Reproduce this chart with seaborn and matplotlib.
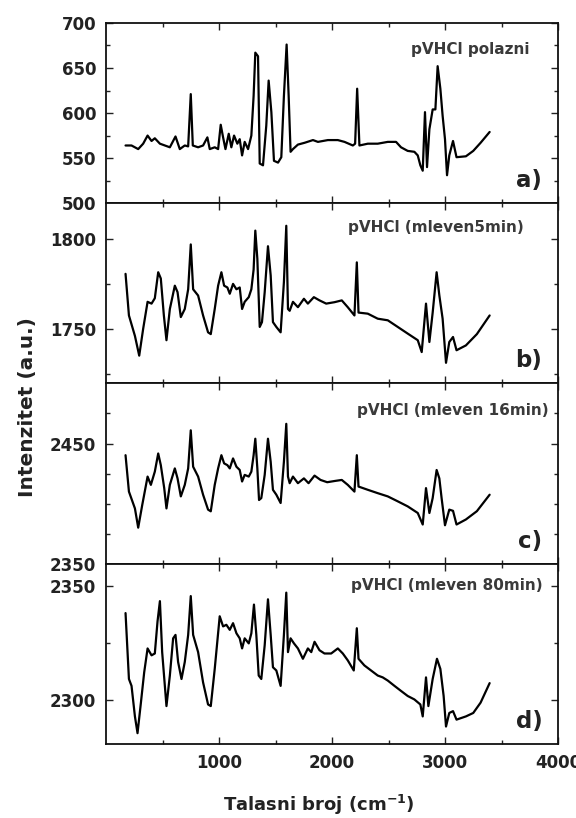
import pandas as pd
import seaborn as sns
import matplotlib.pyplot as plt

# talasni brojevi i intenziteti, ocitano sa slike
wn_a = [173, 226, 285, 329, 368, 403, 432, 477, 521, 565, 615, 653, 697, 727, 750, 768, 815, 859, 897, 918,
        962, 992, 1015, 1036, 1057, 1086, 1109, 1133, 1162, 1183, 1204, 1227, 1257, 1286, 1306, 1321, 1345, 1360,
        1389, 1418, 1439, 1463, 1486, 1522, 1551, 1574, 1598, 1616, 1633, 1654, 1698, 1757, 1831, 1875, 1963,
        2051, 2110, 2184, 2204, 2222, 2242, 2316, 2404, 2493, 2566, 2610, 2669, 2728, 2758, 2781, 2802, 2822,
        2840, 2861, 2890, 2914, 2934, 2958, 2978, 2999, 3017, 3037, 3070, 3101, 3184, 3249, 3314, 3394]
int_a = [564, 564, 560, 566, 575, 569, 572, 566, 564, 562, 574, 560, 564, 563, 621, 564, 562, 564, 573, 560,
         562, 560, 587, 573, 560, 577, 562, 575, 566, 571, 553, 568, 560, 575, 619, 667, 663, 544,
         542, 586, 636, 601, 547, 545, 551, 619, 676, 619, 557, 560, 565, 567, 570, 568, 570,
         570, 568, 564, 566, 627, 564, 566, 566, 568, 568, 562, 558, 557, 553, 542, 536, 601,
         540, 582, 604, 604, 652, 627, 597, 571, 531, 553, 569, 551, 552, 558, 567, 579]

wn_b = [173, 203, 256, 294, 329, 368, 403, 432, 462, 485, 512, 535, 565, 609, 633, 662, 697, 727, 750, 771,
        815, 859, 903, 927, 962, 992, 1021, 1045, 1074, 1095, 1124, 1154, 1183, 1204, 1227, 1263, 1286, 1306,
        1321, 1339, 1360, 1380, 1404, 1433, 1457, 1477, 1507, 1545, 1574, 1595, 1610, 1625, 1654, 1698, 1751,
        1786, 1839, 1889, 1948, 2022, 2086, 2139, 2198, 2219, 2234, 2316, 2404, 2493, 2581, 2669, 2758, 2793,
        2831, 2861, 2890, 2925, 2949, 2978, 3008, 3037, 3070, 3101, 3184, 3281, 3394]
int_b = [1780.6, 1757.4, 1746, 1735, 1750, 1765, 1764, 1767, 1781.5, 1778, 1757.4, 1743.6, 1761, 1774, 1770.4,
         1756.5, 1761, 1772, 1797, 1772, 1768.5, 1757.4, 1748, 1747, 1761, 1774, 1781.5, 1774, 1773, 1769.5,
         1775, 1772, 1773, 1761, 1765, 1767.6, 1772, 1783, 1804.7, 1789, 1751, 1753.7, 1770.4, 1796, 1779.7,
         1753.7, 1751, 1748, 1776, 1807.4, 1761, 1760, 1765, 1762, 1766.7, 1764, 1767.6, 1765.8, 1764, 1764.8,
         1765.8, 1762, 1757.4, 1787, 1759, 1758.4, 1755.6, 1754.7, 1751, 1747.3, 1743.6, 1737,
         1764, 1742.6, 1759, 1781.5, 1768.6, 1755.6, 1731, 1742.6, 1745.4, 1738, 1740.7, 1747, 1757.4]

wn_c = [173, 203, 256, 285, 321, 368, 397, 432, 462, 485, 515, 535, 565, 609, 633, 662, 697, 727, 750, 771,
        815, 859, 903, 927, 962, 992, 1021, 1045, 1074, 1095, 1124, 1154, 1183, 1204, 1227, 1263, 1286, 1306,
        1321, 1339, 1354, 1374, 1404, 1433, 1457, 1477, 1507, 1545, 1574, 1595, 1610, 1625, 1654, 1698, 1751,
        1792, 1845, 1898, 1957, 2028, 2086, 2139, 2198, 2219, 2234, 2316, 2404, 2493, 2581, 2669, 2758, 2802,
        2831, 2861, 2890, 2925, 2949, 2969, 2999, 3037, 3070, 3101, 3184, 3281, 3394]
int_c = [2440.3, 2410, 2396, 2380, 2399, 2422.5, 2415.6, 2426.6, 2441.7, 2432, 2413, 2396, 2415.6, 2429.3, 2421,
         2406, 2415.6, 2429.3, 2461, 2430.7, 2422.5, 2407.4, 2395, 2393.6, 2415.6, 2429.3, 2440.3, 2433.5, 2432,
         2429.3, 2437.6, 2430.7, 2428, 2418.4, 2423.9, 2422.5, 2426.6, 2440.3, 2454, 2429.3, 2403, 2404.6,
         2423.9, 2454, 2434.8, 2411.5, 2407.4, 2400.5, 2434.8, 2466.4, 2422.5, 2417, 2422.5, 2417, 2421,
         2417, 2423.3, 2419.7, 2417.8, 2418.9, 2419.7, 2415.6, 2410, 2440.3, 2414.2, 2411.5, 2408.7, 2406,
         2401.9, 2397.7, 2392.2, 2382.6, 2412.9, 2392.2, 2404.6, 2428, 2421, 2404.6, 2382, 2395, 2394,
         2382.6, 2386.8, 2393.7, 2407.4]

wn_d = [173, 203, 226, 256, 279, 309, 338, 368, 403, 432, 456, 477, 497, 535, 565, 594, 615, 638, 668, 697,
        727, 750, 771, 815, 859, 903, 927, 962, 1006, 1036, 1065, 1095, 1124, 1154, 1183, 1204, 1227, 1263,
        1286, 1309, 1330, 1351, 1374, 1404, 1433, 1457, 1477, 1507, 1545, 1574, 1595, 1610, 1633, 1663, 1698,
        1742, 1786, 1816, 1845, 1889, 1933, 1992, 2051, 2095, 2139, 2192, 2219, 2234, 2286, 2345, 2404, 2448,
        2493, 2552, 2610, 2669, 2728, 2781, 2802, 2831, 2852, 2890, 2928, 2958, 2987, 3008, 3037, 3070, 3101,
        3184, 3249, 3314, 3394]
int_d = [2338, 2309.3, 2306.3, 2293, 2285.7, 2299, 2312.2, 2322.6, 2319.6, 2320.4, 2334.4, 2343.2, 2321, 2297.5,
         2310.8, 2327, 2328.5, 2316.7, 2309.3, 2316.7, 2328.5, 2345.4, 2328.5, 2321, 2307.8, 2298.2, 2297.5,
         2313.7, 2336.6, 2332.2, 2332.9, 2330.7, 2333.6, 2329.2, 2327, 2322.6, 2327, 2324.8, 2329.2, 2341.7,
         2328.5, 2310.8, 2309.3, 2324, 2344, 2328.5, 2314.4, 2313, 2306.3, 2328.5, 2346.9, 2321, 2327, 2324.8,
         2322.6, 2318.1, 2322.6, 2321, 2325.5, 2321.8, 2320.4, 2320.4, 2322.6, 2320.4, 2317.4, 2313, 2331.4,
         2318.1, 2315.2, 2313, 2310.8, 2310, 2308.6, 2306.3, 2304.1, 2301.9, 2300.4, 2298.2, 2293, 2310,
         2297.5, 2309.3, 2318.1, 2313.7, 2301.9, 2288.6, 2294.5, 2295.3, 2291.6, 2293, 2294.5, 2299, 2307.5]

natpisi = ['pVHCl polazni', 'pVHCl (mleven5min)', 'pVHCl (mleven 16min)', 'pVHCl (mleven 80min)']
oznake = ['a)', 'b)', 'c)', 'd)']
ylims = [(500, 700), (1719.5, 1820), (2350, 2500), (2281, 2359.5)]
yticks = [[500, 550, 600, 650, 700], [1750, 1800], [2350, 2450], [2300, 2350]]
yminor = [[525, 575, 625, 675], [1725, 1775], [2375, 2400, 2425, 2475], [2325]]

sns.set_style('ticks')
plt.rcParams['font.family'] = ['DejaVu Sans']
plt.rcParams['font.weight'] = 'bold'

fig, axes = plt.subplots(4, 1, figsize=(5.76, 8.18), dpi=100, sharex=True)
fig.subplots_adjust(left=0.184, right=0.969, top=0.972, bottom=0.0905, hspace=0)

serije = [(wn_a, int_a), (wn_b, int_b), (wn_c, int_c), (wn_d, int_d)]
natpis_pos = [(0.936, 0.85), (0.924, 0.867), (0.98, 0.85), (0.965, 0.88)]

for i, ax in enumerate(axes):
    df = pd.DataFrame({'wn': serije[i][0], 'I': serije[i][1]})
    sns.lineplot(data=df, x='wn', y='I', ax=ax, color='black', linewidth=1.6, estimator=None, sort=False)
    ax.set_xlim(0, 4000)
    ax.set_ylim(*ylims[i])
    ax.set_yticks(yticks[i])
    ax.set_yticks(yminor[i], minor=True)
    ax.set_xticks([1000, 2000, 3000, 4000])
    ax.set_xticks([500, 1500, 2500, 3500], minor=True)
    ax.tick_params(which='both', direction='in', top=True, right=True, width=1, colors='#222222',
                   labelsize=12, pad=7)
    ax.tick_params(which='major', length=5)
    ax.tick_params(which='minor', length=3)
    for s in ax.spines.values():
        s.set_linewidth(1.3)
        s.set_color('#111111')
    ax.set_xlabel('')
    ax.set_ylabel('')
    ax.text(natpis_pos[i][0], natpis_pos[i][1], natpisi[i], transform=ax.transAxes, ha='right', va='center',
            fontsize=11, fontweight='bold', color='#3a3a3a')
    ax.text(0.965, 0.125, oznake[i], transform=ax.transAxes, ha='right', va='center',
            fontsize=16.5, fontweight='bold', color='#222222')

fig.text(28 / 576, 1 - 407 / 818, 'Intenzitet (a.u.)', rotation=90, ha='center', va='center',
         fontsize=14.5, fontweight='bold', color='#222222')
fig.text(319 / 576, 1 - 805 / 818, 'Talasni broj (cm$^{-1}$)', ha='center', va='center',
         fontsize=13, fontweight='bold', color='#222222')

plt.savefig('out.png', dpi=100)
